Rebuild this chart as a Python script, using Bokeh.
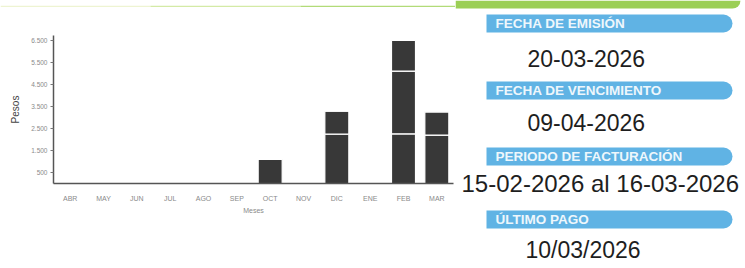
from bokeh.plotting import figure
from bokeh.models import FixedTicker, Range1d, FactorRange, BoxAnnotation, Label, ColumnDataSource
from bokeh.layouts import row, column
from bokeh.embed import file_html
from bokeh.resources import INLINE

# ---- data ----
meses = ["ABR", "MAY", "JUN", "JUL", "AGO", "SEP", "OCT", "NOV", "DIC", "ENE", "FEB", "MAR"]
tramo_1 = [0, 0, 0, 0, 0, 0, 1100, 0, 2240, 0, 2260, 2200]
tramo_2 = [0, 0, 0, 0, 0, 0, 0, 0, 1050, 0, 2850, 1060]
tramo_3 = [0, 0, 0, 0, 0, 0, 0, 0, 0, 0, 1390, 0]
y_ticks = [500, 1500, 2500, 3500, 4500, 5500, 6500]
y_tick_labels = ["500", "1.500", "2.500", "3.500", "4.500", "5.500", "6.500"]

titulos = ["FECHA DE EMISIÓN", "FECHA DE VENCIMIENTO", "PERIODO DE FACTURACIÓN", "ÚLTIMO PAGO"]
valores = ["20-03-2026", "09-04-2026", "15-02-2026 al  16-03-2026", "10/03/2026"]

FONT = "Liberation Sans"

# ---- green header strip over the chart column ----
g = figure(width=455, height=7, x_range=Range1d(0, 455), y_range=Range1d(7, 0),
           output_backend="svg", toolbar_location=None, min_border=0,
           x_axis_type=None, y_axis_type=None)
g.xgrid.grid_line_color = None
g.ygrid.grid_line_color = None
g.outline_line_color = None
for l, r, b, c in [(0, 150, 3, "#eef4d2"), (150, 300, 5, "#d4eaa6"), (300, 455, 7, "#b2db78")]:
    g.add_layout(BoxAnnotation(left=l, right=r, top=0, bottom=b, fill_color=c,
                               fill_alpha=1.0, line_color=None))

# ---- bar chart ----
src = ColumnDataSource(dict(mes=meses, t1=tramo_1, t2=tramo_2, t3=tramo_3))
p = figure(x_range=FactorRange(*meses), y_range=Range1d(0, 6727),
           width=455, height=261, output_backend="svg", toolbar_location=None,
           min_border_left=53, min_border_right=2, min_border_top=28, min_border_bottom=85)
p.vbar_stack(["t1", "t2", "t3"], x="mes", width=0.72, source=src,
             fill_color="#383838", line_color="white", line_width=1.2)

p.xgrid.grid_line_color = None
p.ygrid.grid_line_color = None
p.outline_line_color = None

for ax in (p.xaxis[0], p.yaxis[0]):
    ax.axis_line_color = "#555555"
    ax.axis_line_width = 1.5
    ax.minor_tick_line_color = None
    ax.major_label_text_font = FONT
    ax.major_label_text_color = "#8a8a8a"
    ax.axis_label_text_font = FONT
    ax.axis_label_text_font_style = "normal"

p.xaxis.major_tick_line_color = None
p.xaxis.major_label_text_font_size = "7px"
p.xaxis.major_label_standoff = 5
p.xaxis.axis_label = "Meses"
p.xaxis.axis_label_text_font_size = "7px"
p.xaxis.axis_label_text_color = "#8a8a8a"
p.xaxis.axis_label_standoff = 2

p.yaxis.ticker = FixedTicker(ticks=y_ticks)
p.yaxis.major_label_overrides = dict(zip(y_ticks, y_tick_labels))
p.yaxis.major_label_text_font_size = "6.5px"
p.yaxis.major_tick_out = 3
p.yaxis.major_tick_in = 0
p.yaxis.major_tick_line_color = "#777777"
p.yaxis.major_label_standoff = 3
p.yaxis.axis_label = "Pesos"
p.yaxis.axis_label_text_font_size = "10px"
p.yaxis.axis_label_text_color = "#444444"
p.yaxis.axis_label_standoff = 7

# ---- info panel (page pixel coordinates) ----
q = figure(width=290, height=268, x_range=Range1d(455, 745), y_range=Range1d(268, 0),
           output_backend="svg", toolbar_location=None, min_border=0,
           x_axis_type=None, y_axis_type=None)
q.xgrid.grid_line_color = None
q.ygrid.grid_line_color = None
q.outline_line_color = None

q.add_layout(BoxAnnotation(left=455, right=740, top=0, bottom=8, fill_color="#9bcf55",
                           fill_alpha=1.0, line_color=None, border_radius=(0, 0, 8, 0)))

banner_tops = [14, 81, 147, 210]
value_y = [58, 122, 183, 249]
value_x = [527, 527, 461, 525]
value_size = ["23px", "23px", "24px", "23px"]
for t, top, v, vy, vx, vs in zip(titulos, banner_tops, valores, value_y, value_x, value_size):
    q.add_layout(BoxAnnotation(left=486, right=732, top=top, bottom=top + 18,
                               fill_color="#60b3e4", fill_alpha=1.0, line_color=None,
                               border_radius=(0, 9, 9, 0)))
    q.add_layout(Label(x=495, y=top + 9, text=t, text_font=FONT, text_font_style="bold",
                       text_font_size="13.5px", text_color="#eef7fc", text_baseline="middle"))
    q.add_layout(Label(x=vx, y=vy, text=v, text_font=FONT,
                       text_font_size=vs, text_color="#1e1e1e", text_baseline="middle"))

layout = row(column(g, column(p)), column(q))
open("out.html", "w").write(file_html(layout, INLINE))
